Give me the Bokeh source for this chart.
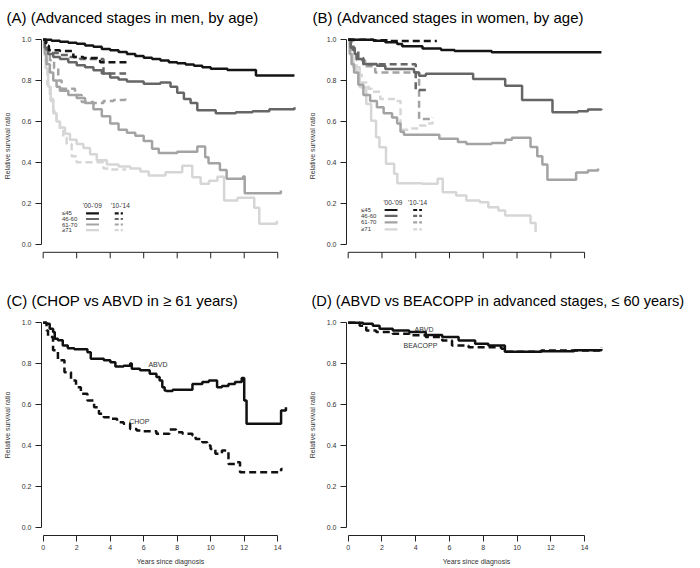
from bokeh.plotting import figure
from bokeh.layouts import gridplot
from bokeh.models import FixedTicker, PrintfTickFormatter, Range1d
from bokeh.core.properties import value
from bokeh.embed import file_html
from bokeh.resources import INLINE

# ---------------- data ----------------
x_ticks = [0, 2, 4, 6, 8, 10, 12, 14]
y_ticks = [0.0, 0.2, 0.4, 0.6, 0.8, 1.0]
age_groups = ["\u226445", "46-60", "61-70", "\u226571"]
period_labels = ["'00-'09", "'10-'14"]

# Panel A: men, advanced stages
a_45_old_t = [0, 0.5, 1, 1.5, 2, 2.5, 3, 3.5, 4, 4.5, 5, 5.5, 6, 6.5, 7, 7.5, 8, 8.5, 9, 9.5, 10, 11, 12.7, 15]
a_45_old_s = [1.0, 0.995, 0.99, 0.985, 0.98, 0.972, 0.965, 0.955, 0.948, 0.94, 0.93, 0.92, 0.912, 0.905, 0.898, 0.89, 0.885, 0.878, 0.872, 0.865, 0.858, 0.852, 0.825, 0.825]
a_45_new_t = [0, 0.15, 0.34, 1.0, 1.8, 2.4, 3.4, 5.2]
a_45_new_s = [1.0, 0.97, 0.948, 0.945, 0.915, 0.91, 0.889, 0.889]
a_60_old_t = [0, 0.1, 0.3, 0.6, 1, 1.5, 2, 2.5, 3, 3.5, 4, 4.5, 5, 6, 7, 7.6, 8, 8.4, 8.8, 9.2, 10.3, 11.5, 12.5, 13.5, 15]
a_60_old_s = [1.0, 0.96, 0.93, 0.915, 0.905, 0.89, 0.875, 0.865, 0.85, 0.835, 0.815, 0.805, 0.795, 0.785, 0.79, 0.77, 0.74, 0.71, 0.69, 0.655, 0.64, 0.645, 0.65, 0.66, 0.67]
a_60_new_t = [0, 0.2, 0.5, 1.0, 1.6, 2.2, 3.6, 4.95]
a_60_new_s = [1.0, 0.95, 0.935, 0.925, 0.915, 0.905, 0.835, 0.835]
a_70_old_t = [0, 0.1, 0.2, 0.4, 0.6, 0.8, 1.0, 1.5, 2, 2.5, 3, 3.5, 4, 4.5, 5, 5.5, 6, 6.5, 6.9, 8.0, 9.2, 9.67, 9.87, 10.55, 10.95, 11.93, 12.03, 14.19]
a_70_old_s = [1.0, 0.93, 0.88, 0.84, 0.8, 0.77, 0.75, 0.73, 0.715, 0.69, 0.66, 0.625, 0.59, 0.56, 0.545, 0.53, 0.505, 0.466, 0.446, 0.452, 0.477, 0.425, 0.396, 0.363, 0.32, 0.331, 0.249, 0.262]
a_70_new_t = [0, 0.2, 0.4, 0.65, 0.9, 1.1, 1.9, 2.3, 3.0, 3.6, 4.2, 4.9]
a_70_new_s = [1.0, 0.95, 0.9, 0.86, 0.8, 0.76, 0.73, 0.695, 0.69, 0.7, 0.705, 0.715]
a_71_old_t = [0, 0.05, 0.15, 0.3, 0.45, 0.6, 0.8, 1.0, 1.3, 1.6, 2.0, 2.4, 2.8, 3.2, 3.8, 4.5, 5.2, 5.8, 6.3, 7.3, 8.3, 8.9, 9.4, 9.9, 10.4, 10.8, 11.6, 12.6, 12.9, 13.95]
a_71_old_s = [1.0, 0.95, 0.86, 0.77, 0.7, 0.64, 0.6, 0.57, 0.54, 0.51, 0.49, 0.47, 0.44, 0.41, 0.39, 0.38, 0.37, 0.355, 0.336, 0.352, 0.384, 0.327, 0.295, 0.31, 0.33, 0.213, 0.227, 0.178, 0.1, 0.115]
a_71_new_t = [0, 0.1, 0.25, 0.4, 0.6, 0.8, 1.0, 1.2, 1.4, 1.7, 2.0, 3.6, 4.0, 4.9]
a_71_new_s = [1.0, 0.9, 0.78, 0.71, 0.65, 0.6, 0.555, 0.52, 0.49, 0.43, 0.40, 0.37, 0.365, 0.37]

# Panel B: women, advanced stages
b_45_old_t = [0, 1.5, 2.2, 2.9, 3.2, 4.4, 5.5, 6.3, 8.5, 15]
b_45_old_s = [1.0, 0.995, 0.988, 0.979, 0.968, 0.957, 0.95, 0.945, 0.938, 0.938]
b_45_new_t = [0, 1.5, 2.5, 5.25]
b_45_new_s = [1.0, 0.997, 0.993, 0.993]
b_60_old_t = [0, 0.15, 0.39, 0.5, 0.9, 1.7, 2.2, 3.9, 4.2, 4.6, 7.4, 9.3, 10.3, 12.1, 13.6, 14.2, 15]
b_60_old_s = [1.0, 0.96, 0.93, 0.906, 0.881, 0.873, 0.857, 0.84, 0.824, 0.833, 0.808, 0.775, 0.705, 0.645, 0.65, 0.658, 0.662]
b_60_new_t = [0, 0.3, 0.6, 0.9, 4.0, 4.8]
b_60_new_s = [1.0, 0.95, 0.91, 0.88, 0.754, 0.754]
b_70_old_t = [0, 0.1, 0.2, 0.35, 0.6, 0.9, 1.3, 1.7, 2.1, 2.6, 2.9, 3.1, 3.3, 5.4, 6.5, 7.0, 8.5, 9.3, 9.7, 10.5, 10.8, 11.2, 11.5, 11.8, 13.5, 14.2, 14.8]
b_70_old_s = [1.0, 0.93, 0.88, 0.84, 0.78, 0.73, 0.70, 0.67, 0.64, 0.62, 0.59, 0.55, 0.535, 0.515, 0.5, 0.49, 0.495, 0.51, 0.52, 0.52, 0.475, 0.43, 0.39, 0.315, 0.35, 0.36, 0.37]
b_70_new_t = [0, 0.2, 0.5, 1.0, 1.6, 4.2, 5.0]
b_70_new_s = [1.0, 0.95, 0.9, 0.87, 0.84, 0.612, 0.62]
b_71_old_t = [0, 0.1, 0.29, 0.68, 1.07, 1.36, 1.65, 1.85, 2.24, 2.72, 2.91, 4.37, 5.3, 5.6, 6.4, 7.0, 7.8, 8.3, 8.9, 9.3, 10.8, 11.1]
b_71_old_s = [1.0, 0.93, 0.865, 0.767, 0.686, 0.604, 0.523, 0.474, 0.393, 0.344, 0.298, 0.295, 0.32, 0.254, 0.238, 0.213, 0.205, 0.18, 0.165, 0.14, 0.103, 0.059]
b_71_new_t = [0, 0.1, 0.3, 0.5, 0.8, 1.2, 1.4, 1.9, 2.9, 3.1, 3.6, 4.2, 4.6, 5.0]
b_71_new_s = [1.0, 0.93, 0.88, 0.83, 0.79, 0.76, 0.745, 0.71, 0.70, 0.56, 0.565, 0.58, 0.59, 0.6]

# Panel C: CHOP vs ABVD, >= 61 years
c_abvd_t = [0, 0.2, 0.39, 0.59, 0.69, 0.88, 1.17, 1.47, 1.86, 2.64, 2.84, 3.62, 4.01, 4.31, 4.8, 5.19, 5.29, 5.78, 6.36, 6.76, 6.95, 7.11, 7.25, 7.34, 7.73, 8.91, 9.5, 9.89, 10.38, 10.67, 11.06, 11.45, 11.85, 12.0, 12.14, 14.2, 14.49]
c_abvd_s = [1.0, 0.995, 0.97, 0.954, 0.922, 0.914, 0.889, 0.875, 0.87, 0.856, 0.824, 0.816, 0.807, 0.786, 0.79, 0.8, 0.775, 0.767, 0.75, 0.734, 0.718, 0.685, 0.669, 0.666, 0.672, 0.70, 0.71, 0.718, 0.685, 0.69, 0.70, 0.71, 0.73, 0.62, 0.506, 0.571, 0.587]
c_chop_t = [0, 0.2, 0.29, 0.59, 0.88, 1.27, 1.66, 1.96, 2.25, 2.64, 3.04, 3.33, 3.62, 4.01, 4.41, 4.8, 5.19, 5.58, 5.97, 6.76, 7.54, 7.93, 8.32, 8.91, 9.1, 9.5, 9.79, 9.99, 10.28, 10.67, 11.06, 11.45, 11.75, 14.2, 14.29]
c_chop_s = [1.0, 0.962, 0.93, 0.865, 0.816, 0.758, 0.718, 0.685, 0.653, 0.62, 0.587, 0.555, 0.538, 0.53, 0.514, 0.506, 0.481, 0.473, 0.47, 0.457, 0.478, 0.465, 0.457, 0.449, 0.432, 0.416, 0.40, 0.383, 0.359, 0.375, 0.31, 0.318, 0.269, 0.285, 0.285]

# Panel D: ABVD vs BEACOPP, advanced stages, <= 60 years
d_abvd_t = [0, 0.88, 1.46, 1.86, 2.64, 3.61, 4.59, 5.57, 6.54, 7.52, 8.3, 9.28, 11.43, 13.38, 15.0]
d_abvd_s = [1.0, 0.995, 0.985, 0.97, 0.962, 0.954, 0.94, 0.93, 0.913, 0.897, 0.889, 0.858, 0.86, 0.865, 0.872]
d_beac_t = [0, 0.68, 1.07, 1.66, 2.64, 3.61, 4.59, 5.57, 6.15, 7.13, 9.08, 9.28, 11.43, 15.0]
d_beac_s = [1.0, 0.985, 0.962, 0.954, 0.946, 0.938, 0.93, 0.913, 0.889, 0.88, 0.873, 0.858, 0.864, 0.878]

title_a = "(A) (Advanced stages in men, by age)"
title_b = "(B) (Advanced stages in women, by age)"
title_c = "(C)  (CHOP vs ABVD in \u2265 61 years)"
title_d = "(D)  (ABVD vs BEACOPP in advanced stages, \u2264 60 years)"

# ---------------- style ----------------
GREYS = ["#151515", "#666666", "#a3a3a3", "#d6d6d6"]
SANS = "Liberation Sans"
LW = 2.5
DASH = "7 4"
XR = (-0.1, 15.3)
PX_PER_UNIT = 204.6
YR_BOTTOM_ROW = (-0.04, 1.04)
YR_TOP_ROW = (-0.08, 1.04)     # frame extended so the drawn x axis sits inside it
AXIS_Y = -0.04
TICK_LEN = 6 / PX_PER_UNIT

W_L, W_R = 305, 393          # column widths
B_LEFT_L, B_LEFT_R = 37, 39  # left borders (frame starts)
FRAME_W = 262
ROW1_TOP, ROW1_H = 31, 282
ROW2_TOP, ROW2_BOT = 32, 32


def make_fig(w, h, left, top, yr, xlabels, title, title_x, title_size):
    frame_h = round((yr[1] - yr[0]) * PX_PER_UNIT)
    p = figure(width=w, height=h, x_range=Range1d(*XR), y_range=Range1d(*yr),
               output_backend="svg", toolbar_location=None,
               min_border_left=left, min_border_right=w - left - FRAME_W,
               min_border_top=top, min_border_bottom=h - top - frame_h)
    p.title.text = title
    p.title.text_font = SANS
    p.title.text_font_size = title_size
    p.title.text_font_style = "normal"
    p.title.text_color = "black"
    p.title.align = "left"
    p.title.vertical_align = "bottom"
    p.title.standoff = 12
    p.title.offset = title_x - left
    p.outline_line_color = None
    p.grid.visible = False
    p.background_fill_color = "white"
    p.border_fill_color = "white"
    for ax in (p.xaxis[0], p.yaxis[0]):
        ax.axis_line_color = "#222222"
        ax.axis_line_width = 1
        ax.major_tick_line_color = "#222222"
        ax.major_tick_line_width = 1
        ax.major_tick_out = 6
        ax.major_tick_in = 0
        ax.minor_tick_out = 0
        ax.minor_tick_in = 0
        ax.major_label_text_font = SANS
        ax.major_label_text_font_size = "7px"
        ax.major_label_text_color = "#333333"
        ax.axis_label_text_font = SANS
        ax.axis_label_text_font_size = "7px"
        ax.axis_label_text_font_style = "normal"
        ax.axis_label_text_color = "#333333"
    p.xaxis.ticker = FixedTicker(ticks=x_ticks)
    p.xaxis.bounds = (0, 14)
    p.yaxis.ticker = FixedTicker(ticks=y_ticks)
    p.yaxis.formatter = PrintfTickFormatter(format="%.1f")
    p.yaxis.bounds = (0, 1)
    p.yaxis.axis_label = "Relative survival ratio"
    p.yaxis.axis_label_standoff = 8
    p.yaxis.major_label_standoff = 4
    if xlabels:
        p.xaxis.axis_label = "Years since diagnosis"
        p.xaxis.major_label_standoff = 3
        p.xaxis.axis_label_standoff = 5
    else:
        # unlabeled time axis, drawn through the plot's own scales
        p.xaxis.visible = False
        p.segment(x0=[x_ticks[0]], y0=[AXIS_Y], x1=[x_ticks[-1]], y1=[AXIS_Y],
                  line_color="#222222", line_width=1)
        p.segment(x0=x_ticks, y0=[AXIS_Y] * len(x_ticks), x1=x_ticks,
                  y1=[AXIS_Y - TICK_LEN] * len(x_ticks), line_color="#222222", line_width=1)
    return p


def add_legend(p, tx, rows_y, head_y, solid_x, dash_x, head_x):
    for i, lab in enumerate(age_groups):
        p.text(x=[tx], y=[rows_y[i]], text=[lab], text_font=value(SANS),
               text_font_size=value("6px"), text_color="#333333",
               text_align="left", text_baseline="middle")
        p.segment(x0=[solid_x[0]], y0=[rows_y[i]], x1=[solid_x[1]], y1=[rows_y[i]],
                  line_color=GREYS[i], line_width=2.2)
        p.segment(x0=[dash_x[0]], y0=[rows_y[i]], x1=[dash_x[1]], y1=[rows_y[i]],
                  line_color=GREYS[i], line_width=2.2, line_dash="4 2")
    for j, lab in enumerate(period_labels):
        p.text(x=[head_x[j]], y=[head_y], text=[lab], text_font=value(SANS),
               text_font_size=value("6.5px"), text_color="#333333",
               text_align="center", text_baseline="middle")


ROW2_H = ROW2_TOP + round((YR_BOTTOM_ROW[1] - YR_BOTTOM_ROW[0]) * PX_PER_UNIT) + ROW2_BOT

pA = make_fig(W_L, ROW1_H, B_LEFT_L, ROW1_TOP, YR_TOP_ROW, False, title_a, 2, "15px")
pB = make_fig(W_R, ROW1_H, B_LEFT_R, ROW1_TOP, YR_TOP_ROW, False, title_b, 5, "15px")
pC = make_fig(W_L, ROW2_H, B_LEFT_L, ROW2_TOP, YR_BOTTOM_ROW, True, title_c, 2, "15px")
pD = make_fig(W_R, ROW2_H, B_LEFT_R, ROW2_TOP, YR_BOTTOM_ROW, True, title_d, 4, "14.6px")

a_series = [(a_45_old_t, a_45_old_s, a_45_new_t, a_45_new_s),
            (a_60_old_t, a_60_old_s, a_60_new_t, a_60_new_s),
            (a_70_old_t, a_70_old_s, a_70_new_t, a_70_new_s),
            (a_71_old_t, a_71_old_s, a_71_new_t, a_71_new_s)]
b_series = [(b_45_old_t, b_45_old_s, b_45_new_t, b_45_new_s),
            (b_60_old_t, b_60_old_s, b_60_new_t, b_60_new_s),
            (b_70_old_t, b_70_old_s, b_70_new_t, b_70_new_s),
            (b_71_old_t, b_71_old_s, b_71_new_t, b_71_new_s)]

for p, series in ((pA, a_series), (pB, b_series)):
    for i in reversed(range(4)):
        ot, os_, nt, ns = series[i]
        p.step(nt, ns, mode="after", line_color=GREYS[i], line_width=LW, line_dash=DASH)
        p.step(ot, os_, mode="after", line_color=GREYS[i], line_width=LW)

add_legend(pA, 1.12, [0.150, 0.123, 0.096, 0.069], 0.187, (2.56, 3.33), (4.27, 4.76), (2.93, 4.6))
add_legend(pB, 0.76, [0.167, 0.138, 0.106, 0.072], 0.204, (2.16, 2.92), (3.85, 4.37), (2.65, 4.11))

pC.step(c_abvd_t, c_abvd_s, mode="after", line_color="#111111", line_width=LW)
pC.step(c_chop_t, c_chop_s, mode="after", line_color="#111111", line_width=LW, line_dash=DASH)
pC.text(x=[6.85, 5.74], y=[0.796, 0.517], text=["ABVD", "CHOP"], text_font=value(SANS),
        text_font_size=value("7px"), text_color="#333333", text_align="center", text_baseline="middle")

pD.step(d_beac_t, d_beac_s, mode="after", line_color="#111111", line_width=LW, line_dash=DASH)
pD.step(d_abvd_t, d_abvd_s, mode="after", line_color="#111111", line_width=LW)
pD.text(x=[4.49, 4.28], y=[0.967, 0.889], text=["ABVD", "BEACOPP"], text_font=value(SANS),
        text_font_size=value("7px"), text_color="#333333", text_align="center", text_baseline="middle")

grid = gridplot([[pA, pB], [pC, pD]], toolbar_location=None)

open("out.html", "w").write(file_html(grid, INLINE))
